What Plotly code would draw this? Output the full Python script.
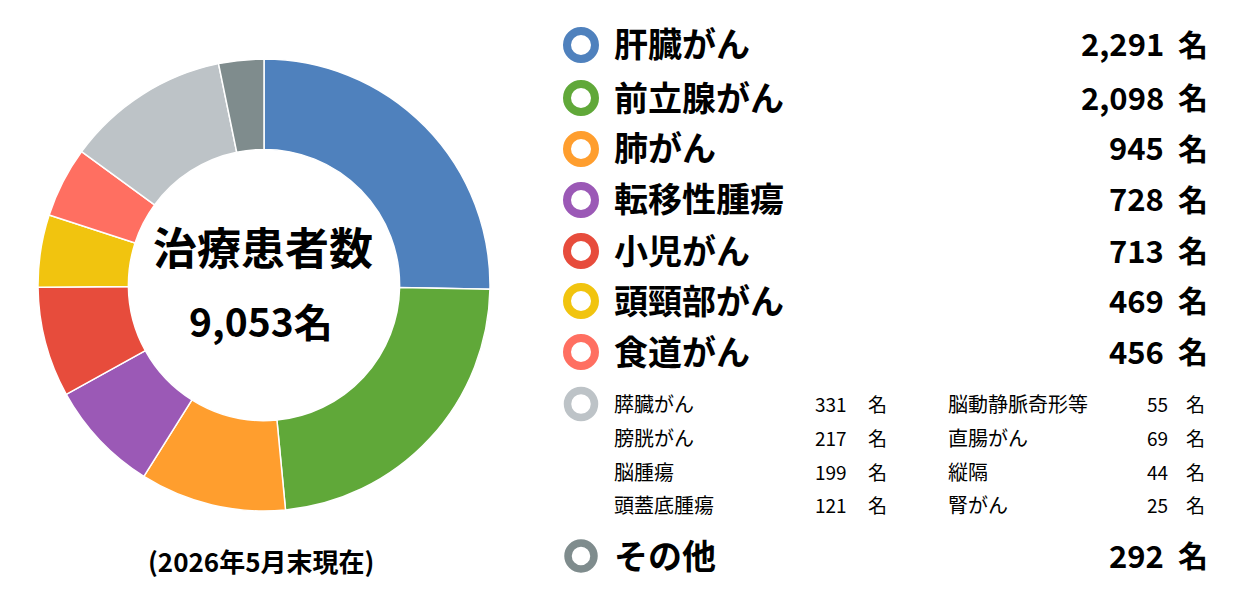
import plotly.graph_objects as go

W, H = 1234, 592

main_names = ["肝臓がん", "前立腺がん", "肺がん", "転移性腫瘍", "小児がん", "頭頸部がん", "食道がん"]
main_values = [2291, 2098, 945, 728, 713, 469, 456]
main_colors = ["#4F81BD", "#60A839", "#FF9E2E", "#9B59B6", "#E74C3C", "#F1C40F", "#FF6F61"]

sub_names_left = ["膵臓がん", "膀胱がん", "脳腫瘍", "頭蓋底腫瘍"]
sub_values_left = [331, 217, 199, 121]
sub_names_right = ["脳動静脈奇形等", "直腸がん", "縦隔", "腎がん"]
sub_values_right = [55, 69, 44, 25]
sub_color = "#BDC3C7"

other_name = "その他"
other_value = 292
other_color = "#7F8C8D"

center_title = "治療患者数"
date_note = "(2026年5月末現在)"

sub_total = sum(sub_values_left) + sum(sub_values_right)
pie_labels = main_names + ["その他の部位", other_name]
pie_values = main_values + [sub_total, other_value]
pie_colors = main_colors + [sub_color, other_color]
total = sum(pie_values)

FONT = "Noto Sans CJK JP"


def px(x):
    return x / W


def py(y):
    return 1 - y / H


fig = go.Figure()
fig.add_trace(go.Pie(
    labels=pie_labels, values=pie_values, sort=False, direction="clockwise",
    rotation=0, hole=0.6, textinfo="none", hoverinfo="label+value",
    marker=dict(colors=pie_colors, line=dict(color="white", width=1.5)),
    domain=dict(x=[px(38), px(490)], y=[py(511), py(59)]),
    showlegend=False,
))

ann = []
shapes = []


def ring(cx, cy, r, color, width):
    shapes.append(dict(type="circle", xref="paper", yref="paper",
                       x0=px(cx - r), x1=px(cx + r), y0=py(cy + r), y1=py(cy - r),
                       line=dict(color=color, width=width), fillcolor="rgba(0,0,0,0)"))


def text(x, y, s, size, anchor="left", weight="normal"):
    ann.append(dict(x=px(x), y=py(y), xref="paper", yref="paper", text=s, showarrow=False,
                    xanchor=anchor, yanchor="middle",
                    font=dict(family=FONT, size=size, color="black", weight=weight)))


main_y = [43, 96, 147, 198, 249, 299, 350]
for name, val, col, y in zip(main_names, main_values, main_colors, main_y):
    ring(581, y + 2, 14, col, 8)
    text(612, y, name, 34, "left", "bold")
    text(1166, y, f"{val:,}", 31, "right", "bold")
    text(1176, y, "名", 30, "left", "bold")

sub_y = [403, 437, 471, 504]
ring(581, sub_y[0] + 1, 13.5, sub_color, 7.5)
for i, y in enumerate(sub_y):
    text(612, y, sub_names_left[i], 20, "left")
    text(849, y, f"{sub_values_left[i]:,}", 19, "right")
    text(866, y, "名", 19, "left")
    text(946, y, sub_names_right[i], 20, "left")
    text(1170, y, f"{sub_values_right[i]:,}", 19, "right")
    text(1184, y, "名", 19, "left")

ring(581, 556, 13, other_color, 7.5)
text(612, 554, other_name, 34, "left", "bold")
text(1166, 554, f"{other_value:,}", 31, "right", "bold")
text(1176, 554, "名", 30, "left", "bold")

# center text
text(263, 246, center_title, 44, "center", "bold")
text(261, 320, f"{total:,}名", 39, "center", "bold")
text(261, 560, date_note, 26, "center", "bold")

fig.update_layout(
    width=W, height=H, margin=dict(l=0, r=0, t=0, b=0),
    paper_bgcolor="white", plot_bgcolor="white",
    annotations=ann, shapes=shapes, showlegend=False,
)

fig.write_html("out.html", config={"displayModeBar": False})
